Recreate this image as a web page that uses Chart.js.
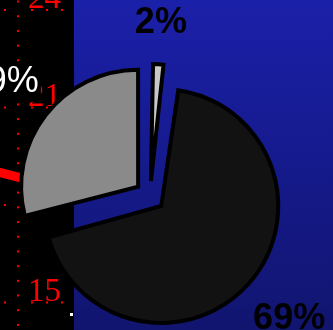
<!DOCTYPE html>
<html>
<head>
<meta charset="utf-8">
<script src="https://cdn.jsdelivr.net/npm/chart.js@4"></script>
<style>
  html, body { margin: 0; padding: 0; background: #000; overflow: hidden; }
  canvas { display: block; }
</style>
</head>
<body>
<canvas id="pieChart" width="333" height="330"></canvas>
<script>
  // pie data, clockwise from 12 o'clock
  const categories = ['Undecided', 'Yes', 'No'];
  const shares = [2, 69, 29];

  const sliceColors = ['#c8c8c8', '#121212', '#8a8a8a'];
  const labelColors = ['#000000', '#000000', '#ffffff'];
  const labelWeights = ['bold', 'bold', 'normal'];
  const labelFills = [null, null, '#000000'];

  // red scale printed on the dark strip behind the pie
  const scaleTicks = ['24', '21', '18', '15'];

  const backdrop = {
    id: 'backdrop',
    beforeDraw(chart) {
      const { ctx, width, height } = chart;
      ctx.save();
      ctx.fillStyle = '#000';
      ctx.fillRect(0, 0, 74, height);
      const g = ctx.createLinearGradient(0, 0, 0, height);
      g.addColorStop(0, '#1b20a9');
      g.addColorStop(0.5, '#151a8c');
      g.addColorStop(1, '#11156f');
      ctx.fillStyle = g;
      ctx.fillRect(74, 0, width - 74, height);

      // dotted axis and gridlines
      ctx.fillStyle = '#ff0000';
      for (let y = 0.5; y < height; y += 14.7) {
        ctx.fillRect(17, y, 2, 2);
      }
      scaleTicks.forEach((t, i) => {
        const gy = 9 + i * 97.5;
        [4, 31, 46, 61].forEach(x => ctx.fillRect(x, gy, 2, 2));
        ctx.font = '33px "Liberation Serif"';
        ctx.textAlign = 'right';
        ctx.textBaseline = 'alphabetic';
        ctx.fillText(t, 61, gy - 1);
      });

      // trend line running behind the slices
      ctx.strokeStyle = '#ff0000';
      ctx.lineWidth = 9;
      ctx.beginPath();
      ctx.moveTo(-2, 172);
      ctx.lineTo(60, 188);
      ctx.stroke();

      ctx.fillStyle = '#ffffff';
      ctx.fillRect(70, 313, 3, 3);
      ctx.restore();
    }
  };

  // keep every exploded slice at the same radius
  const evenRadius = {
    id: 'evenRadius',
    afterDatasetUpdate(chart, args) {
      args.meta.data.forEach(arc => {
        const shift = (arc.options.offset || 0) / 4;
        const fix = 1 - Math.sin(Math.min(Math.PI, arc.circumference));
        arc.outerRadius -= shift * fix;
      });
    }
  };

  const sliceLabels = {
    id: 'sliceLabels',
    afterDatasetsDraw(chart) {
      const { ctx } = chart;
      const meta = chart.getDatasetMeta(0);
      const r = meta.controller.outerRadius;
      const total = shares.reduce((a, b) => a + b, 0);
      ctx.save();
      ctx.textAlign = 'center';
      ctx.textBaseline = 'middle';
      meta.data.forEach((arc, i) => {
        const mid = (arc.startAngle + arc.endAngle) / 2;
        const dist = r + 55 + 18 * Math.abs(Math.cos(mid));
        const x = arc.x + Math.cos(mid) * dist;
        const y = arc.y + Math.sin(mid) * dist;
        const text = Math.round(shares[i] / total * 100) + '%';
        ctx.font = labelWeights[i] + ' 36px "Liberation Sans", Arial, sans-serif';
        if (labelFills[i]) {
          const w = ctx.measureText(text).width;
          ctx.fillStyle = labelFills[i];
          ctx.fillRect(x - w / 2 - 2, y - 20, w + 4, 40);
        }
        ctx.fillStyle = labelColors[i];
        ctx.fillText(text, x, y);
      });
      ctx.restore();
    }
  };

  const ctx = document.getElementById('pieChart').getContext('2d');
  new Chart(ctx, {
    type: 'pie',
    data: {
      labels: categories,
      datasets: [{
        data: shares,
        backgroundColor: sliceColors,
        borderColor: '#000000',
        borderWidth: 4,
        borderJoinStyle: 'miter',
        offset: 60,
        clip: false
      }]
    },
    options: {
      responsive: false,
      devicePixelRatio: 1,
      animation: false,
      radius: 117,
      layout: { padding: { top: 62, right: 33, left: 0, bottom: 0 } },
      plugins: {
        legend: { display: false },
        tooltip: { enabled: false }
      }
    },
    plugins: [backdrop, evenRadius, sliceLabels]
  });
</script>
</body>
</html>
